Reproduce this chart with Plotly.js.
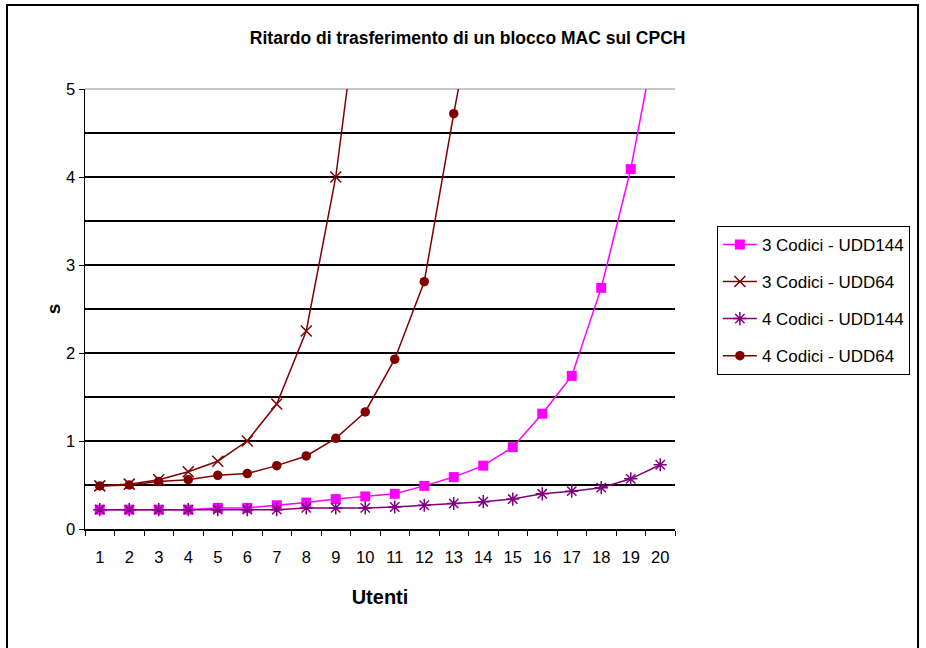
<!DOCTYPE html>
<html>
<head>
<meta charset="utf-8">
<script src="https://cdn.plot.ly/plotly-3.0.1.min.js"></script>
<style>
  html, body { margin: 0; padding: 0; background: #ffffff; }
  #chart { width: 926px; height: 648px; }
</style>
</head>
<body>
<div id="chart"></div>
<script>
// Categories (x axis: Utenti)
const utenti = ['1','2','3','4','5','6','7','8','9','10','11','12','13','14','15','16','17','18','19','20'];

// Series values (s)
const codici3_udd144 = [0.22,0.22,0.22,0.22,0.24,0.24,0.27,0.30,0.34,0.37,0.40,0.49,0.59,0.72,0.93,1.31,1.74,2.74,4.09,5.85];
const codici3_udd64  = [0.49,0.51,0.56,0.65,0.77,1.00,1.42,2.25,4.00,6.6];
const codici4_udd144 = [0.22,0.22,0.22,0.22,0.22,0.22,0.22,0.24,0.24,0.24,0.25,0.27,0.29,0.31,0.34,0.40,0.43,0.47,0.57,0.73];
const codici4_udd64  = [0.49,0.50,0.54,0.56,0.61,0.63,0.72,0.83,1.03,1.33,1.93,2.81,4.72,6.5];

const seriesNames = ['3 Codici - UDD144','3 Codici - UDD64','4 Codici - UDD144','4 Codici - UDD64'];

const chartTitle = 'Ritardo di trasferimento di un blocco MAC sul CPCH';
const xTitle = 'Utenti';
const yTitle = 's';

const FONT = 'Liberation Sans, Arial, sans-serif';

function mk(name, values, color, symbol, size, mlinew) {
  return {
    type: 'scatter',
    mode: 'lines+markers',
    name: name,
    legendgroup: name,
    x: utenti.slice(0, values.length),
    y: values,
    line: { color: color, width: 1.5 },
    marker: { color: color, symbol: symbol, size: size, line: { color: color, width: mlinew } },
    cliponaxis: true
  };
}

const traces = [
  mk(seriesNames[0], codici3_udd144, '#FF00FF', 'square', 10, 0),
  mk(seriesNames[1], codici3_udd64,  '#800000', 'x-thin-open', 11, 1.5),
  mk(seriesNames[2], codici4_udd144, '#800080', 'asterisk-open', 11, 1.5),
  mk(seriesNames[3], codici4_udd64,  '#800000', 'circle', 9.5, 0)
];

const layout = {
  width: 926,
  height: 648,
  paper_bgcolor: '#ffffff',
  plot_bgcolor: '#ffffff',
  margin: { l: 85, r: 251, t: 89, b: 119, pad: 0 },
  font: { family: FONT, size: 16, color: '#000000' },
  title: {
    text: chartTitle,
    font: { family: FONT, size: 17.5, color: '#000000', weight: 'bold' },
    xref: 'container', yref: 'container',
    x: 0.505, y: 0.941, xanchor: 'center', yanchor: 'middle'
  },
  showlegend: true,
  legend: {
    x: 1.071, y: 0.689, xref: 'paper', yref: 'paper',
    xanchor: 'left', yanchor: 'top',
    bgcolor: '#ffffff',
    bordercolor: '#000000', borderwidth: 1,
    font: { family: FONT, size: 17, color: '#000000' },
    tracegroupgap: 12,
    itemwidth: 34
  },
  xaxis: {
    type: 'category',
    range: [-0.5, 19.5],
    tickson: 'boundaries',
    ticks: 'outside', ticklen: 5, tickcolor: '#000000', tickwidth: 1,
    showline: true, linecolor: '#000000', linewidth: 1.5,
    showgrid: false, zeroline: false,
    ticklabelstandoff: 13,
    tickfont: { family: FONT, size: 16.5, color: '#000000' },
    title: { text: xTitle, font: { family: FONT, size: 20, color: '#000000', weight: 'bold' }, standoff: 24 },
    fixedrange: true
  },
  yaxis: {
    range: [0, 5],
    tick0: 0, dtick: 1,
    ticks: 'outside', ticklen: 5, tickcolor: '#000000', tickwidth: 1,
    showline: true, linecolor: '#000000', linewidth: 1.5,
    showgrid: true, gridcolor: '#000000', gridwidth: 1.5,
    minor: { dtick: 0.5, tick0: 0, showgrid: true, gridcolor: '#000000', gridwidth: 1.5, ticks: '' },
    zeroline: false,
    tickfont: { family: FONT, size: 16.5, color: '#000000' },
    title: { text: yTitle, font: { family: FONT, size: 19, color: '#000000', weight: 'bold' }, standoff: 0 },
    fixedrange: true
  },
  shapes: [
    { type: 'line', xref: 'paper', yref: 'paper', x0: 0, x1: 1, y0: 1, y1: 1,
      line: { color: '#c8c8c8', width: 2 }, layer: 'between' },
    { type: 'rect', xref: 'paper', yref: 'paper', x0: -0.1322, x1: 1.4119, y0: -0.3, y1: 1.1909,
      line: { color: '#000000', width: 2 }, fillcolor: 'rgba(0,0,0,0)', layer: 'above' }
  ]
};

Plotly.newPlot('chart', traces, layout, { displayModeBar: false, staticPlot: true });
</script>
</body>
</html>
